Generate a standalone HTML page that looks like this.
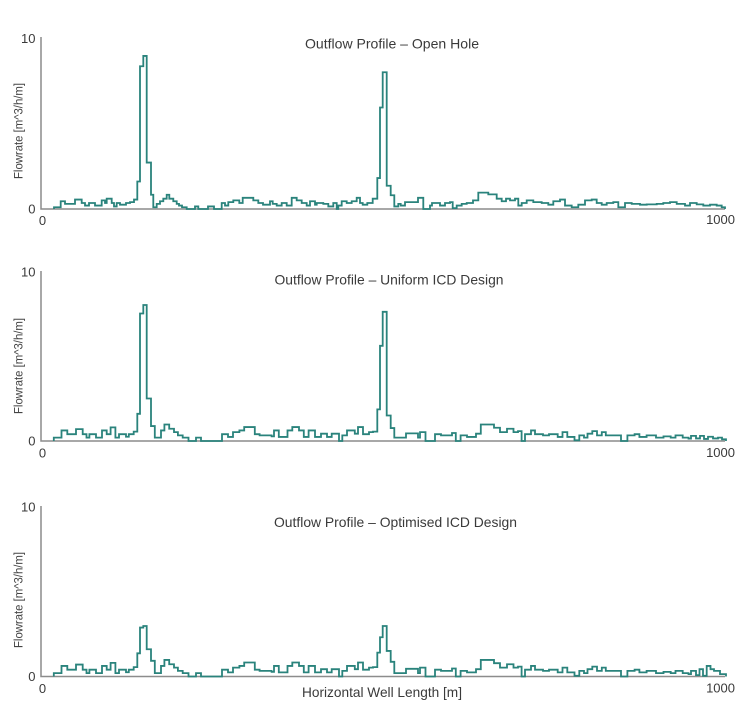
<!DOCTYPE html>
<html>
<head>
<meta charset="utf-8">
<style>
html,body{margin:0;padding:0;background:#fff;}
svg{display:block;}
text{font-family:"Liberation Sans",sans-serif;fill:#3a3a3a;}
.tk{font-size:13px;}
.tt{font-size:14px;}
.yl{font-size:11.5px;fill:#444;}
.ax{stroke:#8c8c8c;stroke-width:1.5;fill:none;}
.ln{stroke:#2a837c;stroke-width:1.8;fill:none;stroke-linejoin:miter;}
</style>
</head>
<body>
<svg width="750" height="713" viewBox="0 0 750 713" xmlns="http://www.w3.org/2000/svg">
<rect width="750" height="713" fill="#fff"/>

<!-- Panel 1 -->
<path class="ax" d="M41,37 V209 H725"/>
<text class="tk" x="35.5" y="43" text-anchor="end">10</text>
<text class="tk" x="35.5" y="213.5" text-anchor="end">0</text>
<text class="tk" x="42.5" y="225" text-anchor="middle">0</text>
<text class="tk" x="735" y="224" text-anchor="end">1000</text>
<text class="tt" x="392" y="48.5" text-anchor="middle" textLength="174" lengthAdjust="spacingAndGlyphs">Outflow Profile – Open Hole</text>
<text class="yl" transform="translate(22.5,131) rotate(-90)" text-anchor="middle" textLength="96" lengthAdjust="spacingAndGlyphs">Flowrate [m^3/h/m]</text>
<path class="ln" vector-effect="non-scaling-stroke" transform="translate(0,209) scale(1,-17.2)" d="M54,0 V0.1 H60.7 V0.45 H65 V0.3 H75 V0.55 H81.7 V0.35 H85 V0.2 H89 V0.35 H95 V0.2 H101.7 V0.5 H105 V0.35 H106.7 V0.6 H111.7 V0.35 H114 V0.15 H116.7 V0.35 H120 V0.25 H126 V0.35 H130 V0.4 H134 V0.55 H137.3 V1.6 H140 V8.3 H143.3 V8.9 H146.7 V2.7 H151 V0.83 H153.3 V0.1 H156.7 V0.3 H160 V0.45 H163.3 V0.6 H166.7 V0.83 H169.3 V0.6 H173.3 V0.45 H176.7 V0.3 H179 V0.2 H182 V0.1 H186.7 V0 H195 V0.15 H198.3 V0 H208 V0.15 H214 V0 H221.7 V0.35 H225 V0.2 H228.3 V0.4 H233.3 V0.5 H239.3 V0.35 H242.7 V0.65 H253.3 V0.5 H258.3 V0.35 H263 V0.25 H270 V0.45 H272.7 V0.3 H276.7 V0.2 H281.7 V0.35 H286.7 V0.2 H291.7 V0.65 H296.7 V0.5 H301.7 V0.35 H306.7 V0.2 H310 V0.45 H315 V0.25 H316.7 V0.35 H323.3 V0.3 H328.3 V0.15 H333.3 V0.35 H336.7 V0 H338.3 V0.2 H341.7 V0.45 H346.7 V0.35 H351.7 V0.45 H356.7 V0.65 H360 V0.35 H362.7 V0.25 H367.3 V0.35 H372.7 V0.6 H377.3 V1.8 H380 V5.9 H382.7 V7.95 H386.7 V1.35 H390.7 V0.8 H394.3 V0.15 H398.3 V0.3 H400.7 V0.2 H405 V0.4 H414 V0.4 H418 V0.65 H423.3 V0 H430 V0.2 H432 V0.35 H440 V0.2 H445 V0.35 H450 V0.4 H452.7 V0.05 H456.7 V0.2 H461.7 V0.3 H466.7 V0.35 H473 V0.5 H478.3 V0.95 H488.3 V0.85 H496.7 V0.6 H501.7 V0.45 H506 V0.6 H510 V0.5 H515 V0.6 H518.3 V0.2 H521.7 V0.35 H526.7 V0.5 H533.3 V0.4 H541.7 V0.35 H548.3 V0.25 H553.3 V0.45 H560 V0.55 H565 V0.2 H571.7 V0.1 H578.3 V0.25 H585 V0.5 H591.7 V0.55 H596.7 V0.35 H601.7 V0.25 H606.7 V0.35 H613.3 V0.4 H618.3 V0.1 H625 V0.35 H631.7 V0.3 H640 V0.25 H646.7 V0.27 H656.7 V0.3 H663.3 V0.35 H670 V0.4 H676.7 V0.3 H685 V0.2 H690 V0.35 H696.7 V0.27 H703.3 V0.2 H710 V0.25 H716.7 V0.2 H721.7 V0.1 H725 V0"/>

<!-- Panel 2 -->
<path class="ax" d="M41,271 V441 H725"/>
<text class="tk" x="35.5" y="276.5" text-anchor="end">10</text>
<text class="tk" x="35.5" y="445.5" text-anchor="end">0</text>
<text class="tk" x="42.5" y="457.5" text-anchor="middle">0</text>
<text class="tk" x="735" y="457" text-anchor="end">1000</text>
<text class="tt" x="389" y="284.5" text-anchor="middle" textLength="229" lengthAdjust="spacingAndGlyphs">Outflow Profile – Uniform ICD Design</text>
<text class="yl" transform="translate(22.5,366) rotate(-90)" text-anchor="middle" textLength="96" lengthAdjust="spacingAndGlyphs">Flowrate [m^3/h/m]</text>
<path class="ln" vector-effect="non-scaling-stroke" transform="translate(0,441) scale(1,-17.0)" d="M53.8,0 V0.2 H61.5 V0.62 H67.3 V0.4 H76 V0.7 H82.7 V0.4 H86.5 V0.2 H89.4 V0.4 H96 V0.2 H102 V0.62 H106.7 V0.4 H110.6 V0.8 H115.4 V0.2 H119 V0.4 H126 V0.25 H128.8 V0.4 H133.7 V0.55 H137.3 V1.6 H140 V7.5 H143.3 V8.0 H146.7 V2.5 H151 V0.88 H154.8 V0.2 H161 V0.62 H164.4 V0.97 H169.2 V0.72 H174 V0.52 H177.9 V0.33 H182.7 V0.2 H188.5 V0 H196 V0.2 H201 V0 H222 V0.4 H228 V0.24 H233 V0.52 H239.4 V0.62 H244.2 V0.82 H254.8 V0.4 H259.6 V0.33 H271.6 V0.27 H274 V0.62 H278.8 V0.24 H287.5 V0.62 H292.3 V0.82 H299 V0.62 H303.8 V0.24 H308.6 V0.62 H315 V0.24 H321 V0.43 H327 V0.24 H331.7 V0.43 H339 V0 H342.3 V0.33 H347 V0.62 H354.8 V0.43 H358 V0.82 H363 V0.4 H369 V0.52 H373 V0.55 H377.3 V1.86 H380 V5.6 H382.7 V7.6 H386.7 V1.5 H390.7 V0.76 H394.3 V0.2 H406 V0.45 H418 V0.2 H420 V0.52 H425.5 V0 H435 V0.4 H441 V0.33 H452 V0.47 H455.8 V0 H460.6 V0.33 H467 V0.24 H476 V0.43 H480.8 V0.97 H490 V0.97 H494 V0.78 H500 V0.52 H507 V0.72 H513.5 V0.52 H518 V0.58 H521.6 V0 H525 V0.4 H531 V0.62 H535 V0.4 H543 V0.33 H549 V0.4 H557.7 V0.24 H562.5 V0.52 H567.3 V0.24 H574.5 V0.04 H579.3 V0.33 H584 V0.2 H587.5 V0.43 H592.3 V0.58 H597 V0.33 H601.8 V0.52 H605.8 V0.33 H613 V0.33 H621 V0 H627.4 V0.33 H634.6 V0.4 H639.4 V0.24 H646.6 V0.33 H656 V0.2 H663.5 V0.27 H670.7 V0.2 H675.5 V0.33 H682.7 V0.2 H688.5 V0.14 H691 V0.3 H696 V0.15 H700 V0.3 H704 V0.12 H708 V0.25 H713 V0.15 H718 V0.2 H722 V0.1 H726 V0"/>

<!-- Panel 3 -->
<path class="ax" d="M41,506 V676.5 H725"/>
<text class="tk" x="35.5" y="511.5" text-anchor="end">10</text>
<text class="tk" x="35.5" y="681" text-anchor="end">0</text>
<text class="tk" x="42.5" y="693" text-anchor="middle">0</text>
<text class="tk" x="735" y="692.5" text-anchor="end">1000</text>
<text class="tt" x="395.5" y="527" text-anchor="middle" textLength="243" lengthAdjust="spacingAndGlyphs">Outflow Profile – Optimised ICD Design</text>
<text class="yl" transform="translate(22.5,600) rotate(-90)" text-anchor="middle" textLength="96" lengthAdjust="spacingAndGlyphs">Flowrate [m^3/h/m]</text>
<text class="tt" x="382" y="697" text-anchor="middle" textLength="160" lengthAdjust="spacingAndGlyphs">Horizontal Well Length [m]</text>
<path class="ln" vector-effect="non-scaling-stroke" transform="translate(0,676.5) scale(1,-17.05)" d="M53.8,0 V0.2 H61.5 V0.62 H67.3 V0.4 H76 V0.7 H82.7 V0.4 H86.5 V0.2 H89.4 V0.4 H96 V0.2 H102 V0.62 H106.7 V0.4 H110.6 V0.8 H115.4 V0.2 H119 V0.4 H126 V0.25 H128.8 V0.4 H133.7 V0.55 H137.3 V1.36 H140 V2.87 H143.3 V2.96 H146.7 V1.6 H151 V0.92 H154.8 V0.2 H161 V0.62 H164.4 V0.97 H169.2 V0.72 H174 V0.52 H177.9 V0.33 H182.7 V0.2 H188.5 V0 H196 V0.2 H201 V0 H222 V0.4 H228 V0.24 H233 V0.52 H239.4 V0.62 H244.2 V0.82 H254.8 V0.4 H259.6 V0.33 H271.6 V0.27 H274 V0.62 H278.8 V0.24 H287.5 V0.62 H292.3 V0.82 H299 V0.62 H303.8 V0.24 H308.6 V0.62 H315 V0.24 H321 V0.43 H327 V0.24 H331.7 V0.43 H339 V0 H342.3 V0.33 H347 V0.62 H354.8 V0.43 H358 V0.82 H363 V0.4 H369 V0.52 H373 V0.55 H377.3 V1.4 H380 V2.3 H382.7 V2.96 H386.7 V1.5 H390.7 V0.86 H394.3 V0.2 H406 V0.45 H418 V0.2 H420 V0.52 H425.5 V0 H435 V0.4 H441 V0.33 H452 V0.47 H455.8 V0 H460.6 V0.33 H467 V0.24 H476 V0.43 H480.8 V0.97 H490 V0.97 H494 V0.78 H500 V0.52 H507 V0.72 H513.5 V0.52 H518 V0.58 H521.6 V0 H525 V0.4 H531 V0.62 H535 V0.4 H543 V0.33 H549 V0.4 H557.7 V0.24 H562.5 V0.52 H567.3 V0.24 H574.5 V0.04 H579.3 V0.33 H584 V0.2 H587.5 V0.43 H592.3 V0.58 H597 V0.33 H601.8 V0.52 H605.8 V0.33 H613 V0.33 H621 V0 H627.4 V0.33 H634.6 V0.4 H639.4 V0.24 H646.6 V0.33 H656 V0.2 H663.5 V0.27 H670.7 V0.2 H675.5 V0.33 H682.7 V0.2 H688.5 V0.14 H691 V0.33 H696 V0.08 H699.5 V0.43 H703 V0.04 H706.7 V0.62 H710.5 V0.43 H714 V0.33 H720 V0.14 H726 V0.08 V0"/>
</svg>
</body>
</html>
